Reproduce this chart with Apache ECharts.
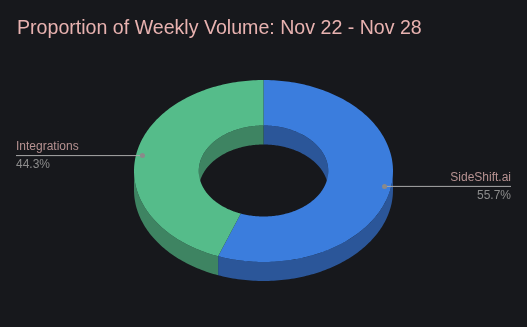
<!DOCTYPE html>
<html><head><meta charset="utf-8">
<script src="https://cdn.jsdelivr.net/npm/echarts@6/dist/echarts.min.js"></script>
<style>html,body{margin:0;padding:0;background:#17181c}#c{width:527px;height:327px}</style>
</head><body><div id="c"></div>
<script>
const titleText = 'Proportion of Weekly Volume: Nov 22 - Nov 28';
const categories = ['SideShift.ai', 'Integrations'];
const values = [55.7, 44.3];
const topColors = ['#3b7ddd', '#55bc8a'];
const sideColors = ['#2b5699', '#3e8462'];

const total = values.reduce((a, b) => a + b, 0);
const starts = [];
let acc = 0;
values.forEach(v => { starts.push(acc); acc += v; });

const G = { cx: 263.5, cy: 171, rx: 129.5, ry: 91, inner: 0.5, depth: 19, labelK: 0.95, leftX: 16, rightX: 511 };
function pt(r, a, dy) { return [G.cx + G.rx * r * Math.sin(a), G.cy - G.ry * r * Math.cos(a) + (dy || 0)]; }
function arc(r, a0, a1, dy) {
  const n = Math.max(2, Math.ceil(Math.abs(a1 - a0) / 0.02));
  const out = [];
  for (let i = 0; i <= n; i++) out.push(pt(r, a0 + (a1 - a0) * i / n, dy));
  return out;
}
function wall(r, a0, a1, lo, hi) {
  const s = Math.max(a0, lo), e = Math.min(a1, hi);
  if (e <= s) return null;
  const top = arc(r, s, e, 0);
  const bot = arc(r, e, s, G.depth);
  return top.concat(bot);
}

const chart = echarts.init(document.getElementById('c'), null, { renderer: 'canvas' });
chart.setOption({
  backgroundColor: '#17181c',
  animation: false,
  title: {
    text: titleText, left: 12, top: 14,
    textStyle: { color: '#e8b2b0', fontSize: 19.6, fontWeight: 'normal', fontFamily: 'Liberation Sans, Arial, sans-serif' }
  },
  series: [{
    type: 'custom',
    coordinateSystem: 'none',
    data: values.map((v, i) => [i, v]),
    renderItem: function (params, api) {
      const i = api.value(0);
      const v = api.value(1);
      const a0 = starts[i] / total * Math.PI * 2;
      const a1 = (starts[i] + v) / total * Math.PI * 2;
      const children = [];
      const TWO = Math.PI * 2;
      const ow = wall(1, a0, a1, Math.PI / 2, Math.PI * 1.5);
      if (ow) children.push({ type: 'polygon', z2: 1, shape: { points: ow }, style: { fill: sideColors[i] } });
      [[0, Math.PI / 2], [Math.PI * 1.5, TWO]].forEach(rg => {
        const iw = wall(G.inner, a0, a1, rg[0], rg[1]);
        if (iw) children.push({ type: 'polygon', z2: 1, shape: { points: iw }, style: { fill: sideColors[i] } });
      });
      const topPts = arc(1, a0, a1, 0).concat(arc(G.inner, a1, a0, 0));
      children.push({ type: 'polygon', z2: 5, shape: { points: topPts }, style: { fill: topColors[i] } });
      const mid = (a0 + a1) / 2;
      const p = pt(G.labelK, mid, 0);
      const left = mid > Math.PI;
      const lx = left ? G.leftX : G.rightX;
      children.push({ type: 'line', z2: 10, shape: { x1: p[0], y1: p[1], x2: lx, y2: p[1] }, style: { stroke: '#a9a9a9', lineWidth: 1 } });
      children.push({ type: 'circle', z2: 11, shape: { cx: p[0], cy: p[1], r: 2.5 }, style: { fill: '#8a8a8a' } });
      children.push({ type: 'text', z2: 12, style: { x: lx, y: p[1] - 3, text: categories[i], fill: '#b79292', fontSize: 12, fontFamily: 'Liberation Sans, Arial, sans-serif', align: left ? 'left' : 'right', verticalAlign: 'bottom' } });
      children.push({ type: 'text', z2: 12, style: { x: lx, y: p[1] + 3, text: (v / total * 100).toFixed(1) + '%', fill: '#8c8c8c', fontSize: 12, fontFamily: 'Liberation Sans, Arial, sans-serif', align: left ? 'left' : 'right', verticalAlign: 'top' } });
      return { type: 'group', children: children };
    }
  }]
});
</script></body></html>
